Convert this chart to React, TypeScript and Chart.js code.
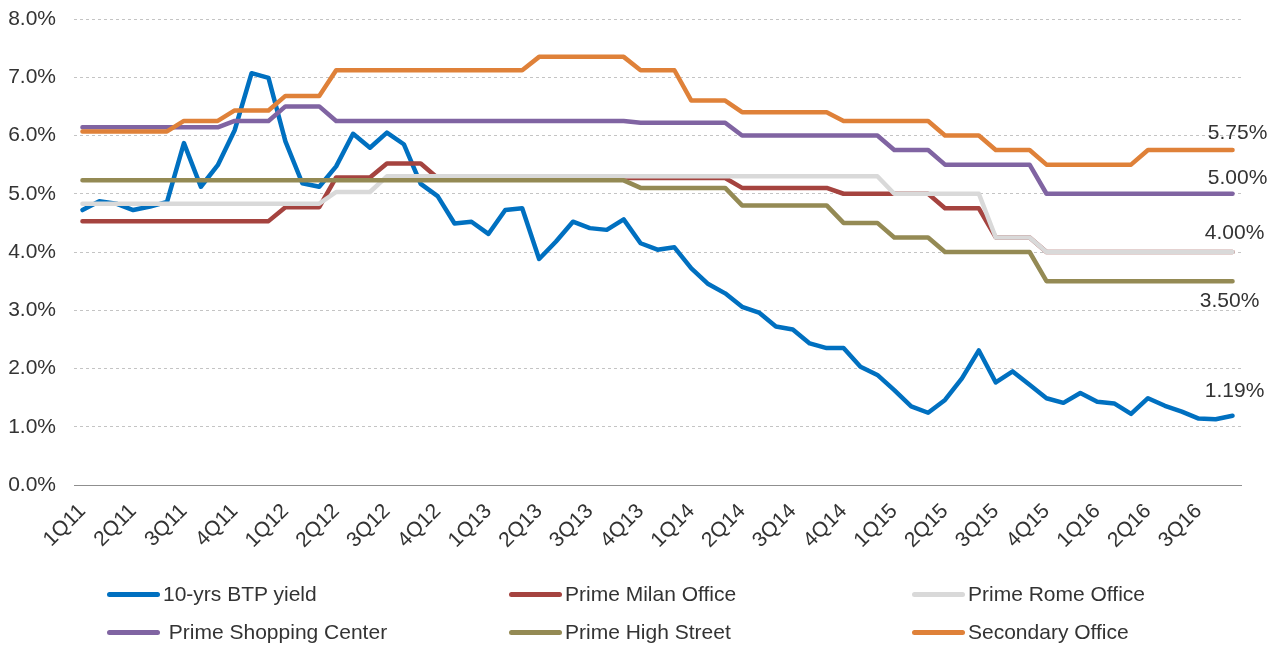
import React, { useEffect, useRef } from 'react';
import { Chart, registerables } from 'chart.js';

Chart.register(...registerables);

// ---- Data ----
const quarterLabels = [
  '1Q11', '2Q11', '3Q11', '4Q11',
  '1Q12', '2Q12', '3Q12', '4Q12',
  '1Q13', '2Q13', '3Q13', '4Q13',
  '1Q14', '2Q14', '3Q14', '4Q14',
  '1Q15', '2Q15', '3Q15', '4Q15',
  '1Q16', '2Q16', '3Q16',
];

// monthly categories: quarter label on the first month of each quarter
const categories = quarterLabels.flatMap((q) => [q, '', '']);

const btpYield = [
  4.72, 4.87, 4.83, 4.72, 4.78, 4.86, 5.87, 5.12, 5.49, 6.09,
  7.07, 6.99, 5.90, 5.18, 5.12, 5.47, 6.03, 5.79, 6.05, 5.85,
  5.17, 4.96, 4.49, 4.52, 4.31, 4.72, 4.75, 3.88, 4.18, 4.52,
  4.41, 4.38, 4.56, 4.15, 4.04, 4.08, 3.72, 3.45, 3.29, 3.06,
  2.96, 2.72, 2.67, 2.43, 2.35, 2.35, 2.03, 1.89, 1.63, 1.35,
  1.24, 1.46, 1.83, 2.31, 1.76, 1.95, 1.72, 1.49, 1.41, 1.58,
  1.43, 1.40, 1.22, 1.49, 1.36, 1.26, 1.14, 1.13, 1.19,
];

const primeMilanOffice = [
  4.53, 4.53, 4.53, 4.53, 4.53, 4.53, 4.53, 4.53, 4.53, 4.53,
  4.53, 4.53, 4.77, 4.77, 4.77, 5.28, 5.28, 5.28, 5.52, 5.52,
  5.52, 5.27, 5.27, 5.27, 5.27, 5.27, 5.27, 5.27, 5.27, 5.27,
  5.27, 5.27, 5.27, 5.27, 5.27, 5.27, 5.27, 5.27, 5.27, 5.10,
  5.10, 5.10, 5.10, 5.10, 5.10, 5.00, 5.00, 5.00, 5.00, 5.00,
  5.00, 4.75, 4.75, 4.75, 4.25, 4.25, 4.25, 4.00, 4.00, 4.00,
  4.00, 4.00, 4.00, 4.00, 4.00, 4.00, 4.00, 4.00, 4.00,
];

const primeRomeOffice = [
  4.83, 4.83, 4.83, 4.83, 4.83, 4.83, 4.83, 4.83, 4.83, 4.83,
  4.83, 4.83, 4.83, 4.83, 4.83, 5.03, 5.03, 5.03, 5.30, 5.30,
  5.30, 5.30, 5.30, 5.30, 5.30, 5.30, 5.30, 5.30, 5.30, 5.30,
  5.30, 5.30, 5.30, 5.30, 5.30, 5.30, 5.30, 5.30, 5.30, 5.30,
  5.30, 5.30, 5.30, 5.30, 5.30, 5.30, 5.30, 5.30, 5.00, 5.00,
  5.00, 5.00, 5.00, 5.00, 4.25, 4.25, 4.25, 4.00, 4.00, 4.00,
  4.00, 4.00, 4.00, 4.00, 4.00, 4.00, 4.00, 4.00, 4.00,
];

const primeShoppingCenter = [
  6.14, 6.14, 6.14, 6.14, 6.14, 6.14, 6.14, 6.14, 6.14, 6.25,
  6.25, 6.25, 6.50, 6.50, 6.50, 6.25, 6.25, 6.25, 6.25, 6.25,
  6.25, 6.25, 6.25, 6.25, 6.25, 6.25, 6.25, 6.25, 6.25, 6.25,
  6.25, 6.25, 6.25, 6.22, 6.22, 6.22, 6.22, 6.22, 6.22, 6.00,
  6.00, 6.00, 6.00, 6.00, 6.00, 6.00, 6.00, 6.00, 5.75, 5.75,
  5.75, 5.50, 5.50, 5.50, 5.50, 5.50, 5.50, 5.00, 5.00, 5.00,
  5.00, 5.00, 5.00, 5.00, 5.00, 5.00, 5.00, 5.00, 5.00,
];

const primeHighStreet = [
  5.23, 5.23, 5.23, 5.23, 5.23, 5.23, 5.23, 5.23, 5.23, 5.23,
  5.23, 5.23, 5.23, 5.23, 5.23, 5.23, 5.23, 5.23, 5.23, 5.23,
  5.23, 5.23, 5.23, 5.23, 5.23, 5.23, 5.23, 5.23, 5.23, 5.23,
  5.23, 5.23, 5.23, 5.10, 5.10, 5.10, 5.10, 5.10, 5.10, 4.80,
  4.80, 4.80, 4.80, 4.80, 4.80, 4.50, 4.50, 4.50, 4.25, 4.25,
  4.25, 4.00, 4.00, 4.00, 4.00, 4.00, 4.00, 3.50, 3.50, 3.50,
  3.50, 3.50, 3.50, 3.50, 3.50, 3.50, 3.50, 3.50, 3.50,
];

const secondaryOffice = [
  6.07, 6.07, 6.07, 6.07, 6.07, 6.07, 6.25, 6.25, 6.25, 6.43,
  6.43, 6.43, 6.68, 6.68, 6.68, 7.12, 7.12, 7.12, 7.12, 7.12,
  7.12, 7.12, 7.12, 7.12, 7.12, 7.12, 7.12, 7.35, 7.35, 7.35,
  7.35, 7.35, 7.35, 7.12, 7.12, 7.12, 6.60, 6.60, 6.60, 6.40,
  6.40, 6.40, 6.40, 6.40, 6.40, 6.25, 6.25, 6.25, 6.25, 6.25,
  6.25, 6.00, 6.00, 6.00, 5.75, 5.75, 5.75, 5.50, 5.50, 5.50,
  5.50, 5.50, 5.50, 5.75, 5.75, 5.75, 5.75, 5.75, 5.75,
];

const seriesNames = [
  '10-yrs BTP yield',
  'Prime Milan Office',
  'Prime Rome Office',
  ' Prime Shopping Center',
  'Prime High Street',
  'Secondary Office',
];
const seriesValues = [
  btpYield, primeMilanOffice, primeRomeOffice,
  primeShoppingCenter, primeHighStreet, secondaryOffice,
];
const seriesColors = ['#0070C0', '#A5433F', '#D9D9D9', '#8064A2', '#948A54', '#DF8139'];
// offset (dx, dy) of the end-value label relative to the last point; null = no label
const endLabelShift: ([number, number] | null)[] = [
  [2, -24], null, [2, -19], [5, -16], [-3, 20], [5, -17],
];

const FONT = '"Liberation Sans", Arial, sans-serif';
const TEXT = '#333333';

const endLabelPlugin = {
  id: 'endLabels',
  afterDatasetsDraw(chart: any) {
    const ctx = chart.ctx;
    chart.data.datasets.forEach((ds: any, i: number) => {
      const shift = endLabelShift[i];
      if (!shift) return;
      const meta = chart.getDatasetMeta(i);
      const pt = meta.data[meta.data.length - 1];
      const v = ds.data[ds.data.length - 1];
      ctx.save();
      ctx.font = `21px ${FONT}`;
      ctx.fillStyle = TEXT;
      ctx.textAlign = 'center';
      ctx.textBaseline = 'middle';
      ctx.fillText(`${Number(v).toFixed(2)}%`, pt.x + shift[0], pt.y + shift[1]);
      ctx.restore();
    });
  },
};

export default function App() {
  const canvasRef = useRef<HTMLCanvasElement>(null);

  useEffect(() => {
    const canvas = canvasRef.current;
    if (!canvas) return;
    const chart = new Chart(canvas, {
      type: 'line',
      data: {
        labels: categories,
        datasets: seriesValues.map((vals, i) => ({
          label: seriesNames[i],
          data: vals,
          borderColor: seriesColors[i],
          backgroundColor: seriesColors[i],
          borderWidth: 4.5,
          pointRadius: 0,
          pointHoverRadius: 0,
          tension: 0,
          fill: false,
          borderJoinStyle: 'round',
          borderCapStyle: 'round',
          order: seriesValues.length - i,
        })),
      },
      options: {
        responsive: false,
        animation: false,
        devicePixelRatio: 1,
        layout: { autoPadding: false, padding: { left: 0, right: 36, top: 19, bottom: 0 } },
        plugins: {
          legend: { display: false },
          tooltip: { enabled: false },
        },
        scales: {
          x: {
            type: 'category',
            offset: true,
            grid: { display: false },
            border: { display: true, color: '#8F8F8F', width: 1 },
            ticks: {
              autoSkip: false,
              minRotation: 45,
              maxRotation: 45,
              padding: 6,
              color: TEXT,
              font: { family: FONT, size: 21 },
              callback: (_v: any, idx: number) => categories[idx],
            },
            afterFit: (s: any) => {
              s.height = 161;
            },
          },
          y: {
            min: 0,
            max: 8,
            grid: { color: '#C4C4C4', lineWidth: 1, drawTicks: false },
            border: { display: false, dash: [3, 3] },
            ticks: {
              stepSize: 1,
              padding: 18,
              color: TEXT,
              font: { family: FONT, size: 21 },
              callback: (v: any) => `${Number(v).toFixed(1)}%`,
            },
            afterFit: (s: any) => {
              s.width = 74;
              s.paddingTop = 0;
              s.paddingBottom = 0;
            },
          },
        },
      },
      plugins: [endLabelPlugin],
    } as any);
    return () => chart.destroy();
  }, []);

  const legendCols = [107, 509, 912];
  const legendRows = [594, 632];

  return (
    <div
      style={{
        position: 'absolute',
        left: 0,
        top: 0,
        width: 1277,
        height: 646,
        background: '#ffffff',
        fontFamily: FONT,
        overflow: 'hidden',
      }}
    >
      <canvas
        ref={canvasRef}
        width={1277}
        height={646}
        style={{ position: 'absolute', left: 0, top: 0, width: 1277, height: 646 }}
      />
      {seriesNames.map((name, i) => {
        const col = i % 3;
        const row = Math.floor(i / 3);
        return (
          <div
            key={name}
            style={{
              position: 'absolute',
              left: legendCols[col],
              top: legendRows[row] - 13,
              height: 26,
              display: 'flex',
              alignItems: 'center',
              whiteSpace: 'pre',
              fontSize: 21,
              color: TEXT,
            }}
          >
            <span
              style={{
                display: 'inline-block',
                width: 53,
                height: 5,
                borderRadius: 3,
                background: seriesColors[i],
                marginRight: 3,
              }}
            />
            <span>{name}</span>
          </div>
        );
      })}
    </div>
  );
}
